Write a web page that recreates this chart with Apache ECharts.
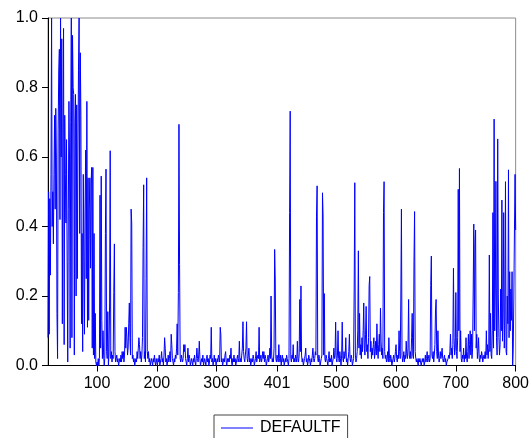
<!DOCTYPE html>
<html>
<head>
<meta charset="utf-8">
<script src="https://cdn.jsdelivr.net/npm/echarts@6/dist/echarts.min.js"></script>
<style>
html,body{margin:0;padding:0;background:#fff;}
#chart{width:532px;height:438px;}
</style>
</head>
<body>
<div id="chart"></div>
<script>
// observation numbers shown on the x axis (first observation is 18, last 800)
const firstObs = 18;
const lastObs = 800;
const xTickLabels = ['100','200','300','401','500','600','700','800'];
const yTickLabels = [0, 0.2, 0.4, 0.6, 0.8, 1.0];
const seriesName = 'DEFAULTF';

// DEFAULTF values, one per observation, starting at observation 18
const defaultf = [
0.08,0.50,0.09,0.48,0.26,0.55,1.00,0.40,0.50,0.35,0.55,0.72,
0.45,0.74,0.60,0.15,0.02,0.68,0.85,0.91,0.42,1.00,
0.60,0.94,0.12,0.70,0.97,0.06,0.72,0.55,0.41,0.65,
0.30,0.01,0.45,0.76,0.60,0.05,0.70,1.00,0.08,0.95,
0.80,0.78,0.03,0.70,0.78,0.20,0.75,0.25,0.60,0.85,
1.00,0.38,0.90,0.72,0.12,0.38,0.04,0.55,0.30,0.09,
0.45,0.62,0.25,0.76,0.11,0.54,0.13,0.45,0.54,0.28,
0.52,0.57,0.05,0.57,0.03,0.38,0.02,0.15,0.01,0.00,
0.01,0.00,0.02,0.00,0.02,0.49,0.05,0.545,0.13,0.02,
0.10,0.03,0.00,0.02,0.38,0.565,0.04,0.02,0.155,0.00,
0.03,0.18,0.618,0.02,0.04,0.01,0.03,0.02,0.21,0.35,
0.04,0.01,0.02,0.03,0.01,0.02,0.00,0.01,0.02,0.01,
0.03,0.01,0.04,0.02,0.04,0.01,0.03,0.11,0.05,0.11,
0.08,0.03,0.05,0.12,0.18,0.08,0.03,0.45,0.41,0.02,
0.03,0.01,0.02,0.00,0.01,0.02,0.01,0.04,0.02,0.05,
0.08,0.06,0.02,0.04,0.01,0.03,0.08,0.34,0.52,0.02,
0.04,0.01,0.25,0.54,0.04,0.02,0.04,0.01,0.02,0.00,
0.01,0.02,0.01,0.00,0.02,0.01,0.03,0.01,0.00,0.02,
0.01,0.00,0.02,0.01,0.03,0.00,0.01,0.02,0.04,0.01,
0.02,0.00,0.03,0.08,0.05,0.01,0.02,0.00,0.01,0.03,
0.01,0.02,0.04,0.01,0.09,0.06,0.02,0.01,0.00,0.02,
0.01,0.03,0.02,0.05,0.12,0.03,0.21,0.694,0.29,0.02,
0.01,0.03,0.03,0.01,0.02,0.06,0.04,0.06,0.02,0.01,
0.00,0.02,0.05,0.01,0.03,0.02,0.00,0.01,0.02,0.01,
0.00,0.02,0.01,0.03,0.01,0.00,0.02,0.05,0.02,0.01,
0.03,0.07,0.02,0.00,0.01,0.02,0.01,0.03,0.00,0.01,
0.02,0.01,0.00,0.02,0.03,0.01,0.02,0.00,0.01,0.03,
0.02,0.11,0.01,0.02,0.00,0.01,0.03,0.01,0.02,0.00,
0.01,0.02,0.01,0.03,0.02,0.01,0.11,0.09,0.01,0.02,
0.00,0.01,0.02,0.01,0.03,0.04,0.01,0.00,0.02,0.01,
0.02,0.01,0.03,0.02,0.05,0.01,0.00,0.02,0.01,0.03,
0.01,0.02,0.00,0.01,0.02,0.03,0.01,0.02,0.07,0.01,
0.02,0.01,0.03,0.05,0.126,0.04,0.02,0.01,0.03,0.05,
0.126,0.02,0.01,0.03,0.05,0.01,0.02,0.00,0.01,0.02,
0.01,0.03,0.02,0.00,0.01,0.02,0.04,0.01,0.02,0.03,
0.02,0.11,0.01,0.02,0.03,0.01,0.02,0.04,0.02,0.04,
0.01,0.03,0.02,0.00,0.01,0.02,0.03,0.01,0.02,0.05,
0.02,0.20,0.03,0.01,0.02,0.01,0.05,0.334,0.246,0.02,
0.01,0.03,0.02,0.01,0.06,0.02,0.01,0.03,0.00,0.02,
0.03,0.01,0.02,0.00,0.01,0.02,0.01,0.03,0.02,0.01,
0.00,0.02,0.44,0.732,0.02,0.01,0.03,0.02,0.06,0.01,
0.02,0.01,0.03,0.02,0.01,0.07,0.02,0.01,0.03,0.19,
0.04,0.229,0.03,0.01,0.02,0.00,0.01,0.02,0.03,0.05,
0.01,0.02,0.00,0.01,0.03,0.02,0.01,0.00,0.02,0.01,
0.03,0.05,0.02,0.01,0.02,0.04,0.03,0.43,0.517,0.02,
0.01,0.03,0.02,0.00,0.01,0.02,0.03,0.497,0.43,0.03,
0.207,0.02,0.01,0.03,0.02,0.01,0.00,0.02,0.04,0.01,
0.02,0.01,0.03,0.00,0.01,0.02,0.05,0.02,0.03,0.125,
0.02,0.01,0.03,0.10,0.02,0.01,0.04,0.02,0.00,0.03,
0.125,0.02,0.01,0.04,0.02,0.03,0.08,0.01,0.02,0.00,
0.02,0.04,0.09,0.02,0.01,0.03,0.02,0.00,0.01,0.02,
0.22,0.526,0.03,0.01,0.02,0.04,0.10,0.33,0.05,0.15,
0.03,0.06,0.02,0.08,0.04,0.10,0.18,0.05,0.03,0.09,
0.17,0.04,0.06,0.02,0.08,0.23,0.256,0.04,0.07,0.02,
0.05,0.03,0.06,0.08,0.02,0.04,0.07,0.03,0.12,0.05,
0.02,0.06,0.09,0.04,0.165,0.07,0.03,0.05,0.02,0.44,
0.529,0.04,0.02,0.03,0.01,0.02,0.04,0.01,0.08,0.02,
0.01,0.03,0.02,0.00,0.01,0.02,0.03,0.01,0.02,0.04,
0.06,0.02,0.01,0.03,0.02,0.10,0.04,0.02,0.20,0.45,
0.03,0.01,0.02,0.04,0.01,0.03,0.02,0.07,0.03,0.02,
0.05,0.19,0.03,0.02,0.04,0.02,0.08,0.15,0.03,0.02,
0.30,0.443,0.04,0.02,0.01,0.02,0.01,0.00,0.02,0.01,
0.02,0.01,0.00,0.01,0.02,0.01,0.02,0.00,0.01,0.03,
0.01,0.02,0.04,0.01,0.02,0.03,0.01,0.02,0.23,0.315,
0.03,0.02,0.04,0.01,0.03,0.06,0.16,0.19,0.04,0.02,
0.10,0.03,0.01,0.02,0.04,0.02,0.03,0.05,0.02,0.01,
0.02,0.03,0.01,0.02,0.00,0.01,0.01,0.02,0.03,0.02,
0.04,0.09,0.03,0.05,0.02,0.06,0.28,0.08,0.03,0.05,
0.21,0.04,0.02,0.08,0.507,0.10,0.567,0.04,0.10,0.02,
0.01,0.03,0.02,0.05,0.01,0.03,0.02,0.08,0.02,0.01,
0.04,0.09,0.02,0.06,0.10,0.03,0.09,0.02,0.05,0.217,
0.407,0.10,0.35,0.39,0.05,0.09,0.02,0.04,0.08,0.02,
0.01,0.03,0.02,0.04,0.03,0.01,0.02,0.03,0.02,0.04,
0.02,0.10,0.03,0.06,0.02,0.05,0.318,0.04,0.15,0.03,
0.02,0.10,0.44,0.05,0.709,0.10,0.22,0.53,0.08,0.03,
0.652,0.20,0.08,0.03,0.06,0.22,0.10,0.476,0.07,0.15,
0.44,0.05,0.14,0.529,0.04,0.03,0.20,0.12,0.563,0.08,
0.27,0.10,0.22,0.13,0.27,0.00,0.05,0.20,0.39,0.55,
0.39
];

const obsLabels = [];
for (let k = firstObs; k <= lastObs; k++) obsLabels.push(String(k));

const FONT = '"Liberation Sans", Arial, sans-serif';
const showTick = (idx, val) => xTickLabels.indexOf(val) >= 0;

const chart = echarts.init(document.getElementById('chart'), null, {renderer: 'canvas'});
chart.setOption({
  animation: false,
  backgroundColor: '#ffffff',
  grid: {
    left: 48, right: 15, top: 18, bottom: 72.5,
    show: true, borderColor: '#8c8c8c', borderWidth: 1, backgroundColor: 'transparent'
  },
  xAxis: {
    type: 'category',
    data: obsLabels,
    boundaryGap: false,
    axisLine: {show: true, lineStyle: {color: '#000', width: 1}},
    axisTick: {show: true, inside: false, length: 6, interval: showTick, lineStyle: {color: '#000'}},
    axisLabel: {show: true, interval: showTick, margin: 10, color: '#000', fontSize: 16, fontFamily: FONT},
    splitLine: {show: false}
  },
  yAxis: {
    type: 'value',
    min: yTickLabels[0],
    max: yTickLabels[yTickLabels.length - 1],
    interval: 0.2,
    axisLine: {show: true, lineStyle: {color: '#000', width: 1}},
    axisTick: {show: true, inside: false, length: 6, lineStyle: {color: '#000'}},
    axisLabel: {margin: 10, color: '#000', fontSize: 16, fontFamily: FONT,
      formatter: v => v.toFixed(1)},
    splitLine: {show: false}
  },
  legend: {
    show: true,
    left: 214, top: 415,
    padding: [5, 7, 10, 7],
    borderColor: '#444', borderWidth: 1,
    backgroundColor: '#fff',
    itemWidth: 32, itemHeight: 1,
    icon: 'rect',
    textStyle: {color: '#000', fontSize: 16, fontFamily: FONT, padding: [0, 0, 0, 2]},
    data: [seriesName]
  },
  series: [{
    name: seriesName,
    type: 'line',
    data: defaultf,
    showSymbol: false,
    symbol: 'none',
    sampling: 'none',
    lineStyle: {color: '#0000ff', width: 1},
    itemStyle: {color: '#0000ff'}
  }]
});
</script>
</body>
</html>
